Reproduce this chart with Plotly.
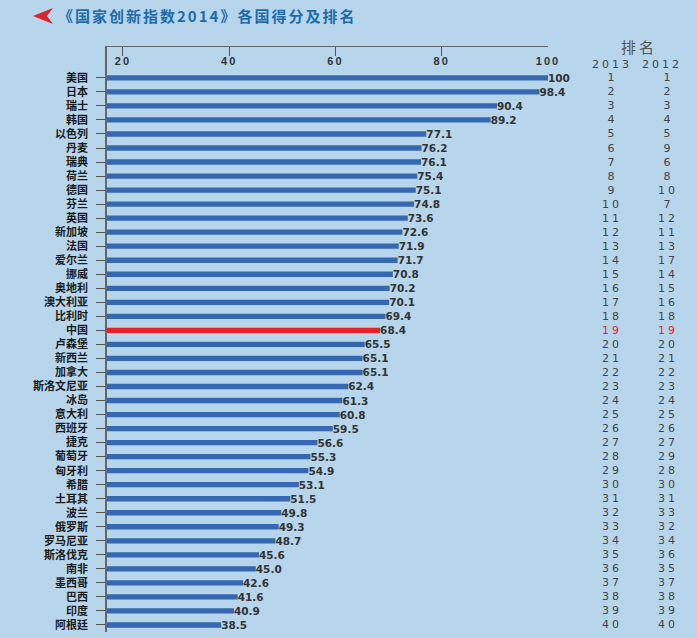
import plotly.graph_objects as go

countries = ["美国", "日本", "瑞士", "韩国", "以色列", "丹麦", "瑞典", "荷兰", "德国", "芬兰",
             "英国", "新加坡", "法国", "爱尔兰", "挪威", "奥地利", "澳大利亚", "比利时", "中国", "卢森堡",
             "新西兰", "加拿大", "斯洛文尼亚", "冰岛", "意大利", "西班牙", "捷克", "葡萄牙", "匈牙利", "希腊",
             "土耳其", "波兰", "俄罗斯", "罗马尼亚", "斯洛伐克", "南非", "墨西哥", "巴西", "印度", "阿根廷"]
scores = [100, 98.4, 90.4, 89.2, 77.1, 76.2, 76.1, 75.4, 75.1, 74.8,
          73.6, 72.6, 71.9, 71.7, 70.8, 70.2, 70.1, 69.4, 68.4, 65.5,
          65.1, 65.1, 62.4, 61.3, 60.8, 59.5, 56.6, 55.3, 54.9, 53.1,
          51.5, 49.8, 49.3, 48.7, 45.6, 45.0, 42.6, 41.6, 40.9, 38.5]
rank_2013 = list(range(1, 41))
rank_2012 = [1, 2, 3, 4, 5, 9, 6, 8, 10, 7,
             12, 11, 13, 17, 14, 15, 16, 18, 19, 20,
             21, 22, 23, 24, 25, 26, 27, 29, 28, 30,
             31, 33, 32, 34, 36, 35, 37, 38, 39, 40]
x_ticks = [20, 40, 60, 80, 100]
highlight = "中国"

W, H = 697, 638
ML, MR, MT, MB = 107, 149, 47, 6
PW, PH = W - ML - MR, H - MT - MB

def px(x):
    return (x - ML) / PW

def py(y):
    return (H - MB - y) / PH

BLUE = "#3568b0"
RED = "#ee1c25"
BG = "#b7d6ec"

bar_colors = [RED if c == highlight else BLUE for c in countries]
labels = ["100" if v == 100 else f"{v:.1f}" for v in scores]

fig = go.Figure(go.Bar(
    x=scores, y=countries, orientation="h",
    marker=dict(color=bar_colors, line=dict(width=0)),
    width=0.38,
    text=labels, textposition="outside", cliponaxis=False, constraintext="none",
    textfont=dict(family="DejaVu Sans", size=10.5, color="#333333", weight="bold"),
    hoverinfo="skip",
))

annotations = []
annotations.append(dict(text="排名", x=px(639), y=py(46), xref="paper", yref="paper",
                        showarrow=False, xanchor="center", yanchor="middle",
                        font=dict(family="Noto Sans CJK SC", size=15, color="#555555")))
for lab, xx in (("2013", 612), ("2012", 662)):
    annotations.append(dict(text=lab, x=px(xx), y=py(64), xref="paper", yref="paper",
                            showarrow=False, xanchor="center", yanchor="middle",
                            font=dict(family="DejaVu Sans", size=11, color="#444444")))
for c, r13, r12 in zip(countries, rank_2013, rank_2012):
    col = RED if c == highlight else "#444444"
    for r, xx in ((r13, 612), (r12, 668)):
        annotations.append(dict(text=str(r), x=px(xx), y=c, xref="paper", yref="y",
                                showarrow=False, xanchor="center", yanchor="middle",
                                font=dict(family="DejaVu Sans", size=11, color=col)))

arrow = (f"M {px(33)} {py(16)} L {px(53)} {py(8)} L {px(47)} {py(16)} "
         f"L {px(53)} {py(24)} Z")

fig.update_layout(
    template="none",
    width=W, height=H,
    margin=dict(l=ML, r=MR, t=MT, b=MB, autoexpand=False),
    paper_bgcolor=BG, plot_bgcolor=BG,
    showlegend=False,
    title=dict(text="《国家创新指数2014》各国得分及排名", xref="container", yref="container",
               x=58 / W, y=1 - 17 / H, xanchor="left", yanchor="middle",
               font=dict(family="Noto Sans CJK SC", size=15, color="#1f6cab", weight="bold")),
    xaxis=dict(side="top", range=[17, 100], tickvals=x_ticks, ticktext=[str(t) for t in x_ticks],
               ticks="inside", ticklen=9, tickwidth=1.2, tickcolor="#555555",
               ticklabelposition="inside", ticklabeloverflow="allow",
               showline=True, linecolor="#666666", linewidth=1.2, automargin=False,
               showgrid=False, zeroline=False,
               tickfont=dict(family="Liberation Sans", size=11, color="#333333", weight="bold")),
    yaxis=dict(type="category", range=[39.5, -2.2],
               ticks="outside", ticklen=9, tickwidth=1.2, tickcolor="#555555",
               showline=True, linecolor="#666666", linewidth=1.5, automargin=False,
               showgrid=False, zeroline=False, ticklabelstandoff=6,
               tickfont=dict(family="Noto Sans CJK SC", size=11, color="#1a1a1a", weight="bold")),
    shapes=[dict(type="path", path=arrow, xref="paper", yref="paper",
                 fillcolor="#d9232d", line=dict(width=0))],
    annotations=annotations,
)

post = """
document.body.style.margin='0';
var s=document.createElement('style');
s.innerHTML='.xtick text{letter-spacing:2px} .annotation-text{letter-spacing:3px} text.gtitle{letter-spacing:2px}';
document.head.appendChild(s);
var gd=document.getElementById('{plot_id}');
Plotly.newPlot(gd, gd.data, gd.layout, {displayModeBar:false, responsive:false});
"""
fig.write_html("out.html", post_script=post, config={"displayModeBar": False})
